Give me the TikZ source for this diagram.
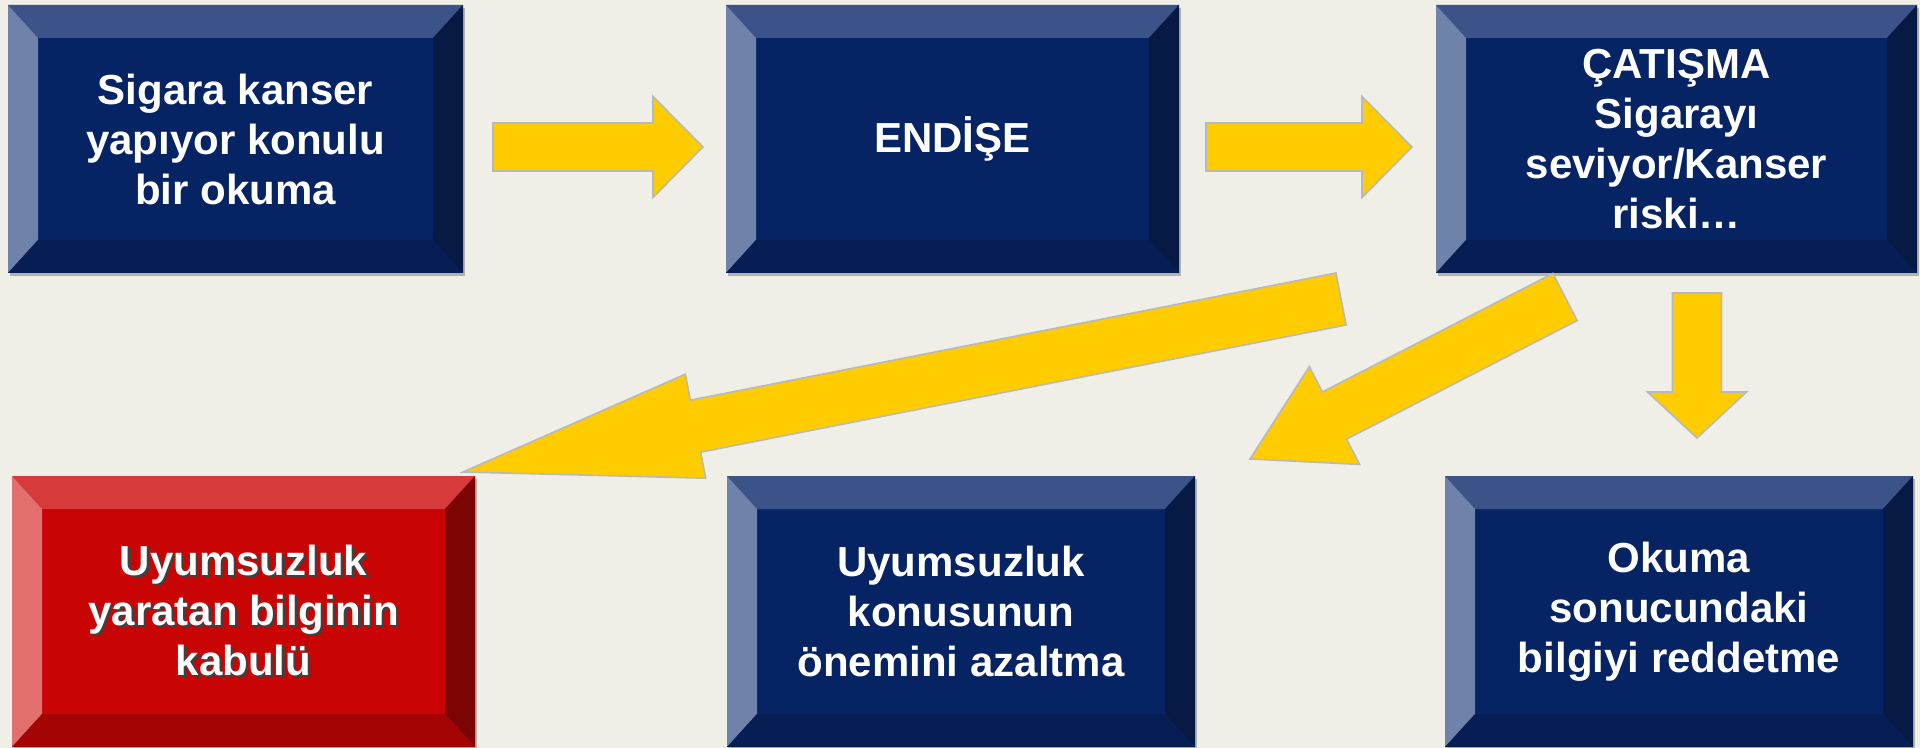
\documentclass[tikz,border=0pt]{standalone}
\usepackage{fontspec}
\setmainfont{Liberation Sans}
\usepackage{tikz}
\usetikzlibrary{positioning,calc,shadows}

\definecolor{bgcol}{RGB}{239,239,232}
\definecolor{navy}{RGB}{6,35,99}
\definecolor{navytop}{RGB}{59,83,137}
\definecolor{navyleft}{RGB}{110,130,170}
\definecolor{navyright}{RGB}{6,26,68}
\definecolor{navybot}{RGB}{6,30,84}
\definecolor{redface}{RGB}{200,4,4}
\definecolor{redtop}{RGB}{214,58,58}
\definecolor{redleft}{RGB}{227,110,110}
\definecolor{redright}{RGB}{125,4,4}
\definecolor{redbot}{RGB}{164,4,4}
\definecolor{arrowyellow}{RGB}{255,204,0}

% node, top, left, right, bottom
\newcommand\bevel[5]{%
  \fill[#2] (#1.north west) -- (#1.north east) -- ([shift={(-15pt,-16.5pt)}]#1.north east) -- ([shift={(15pt,-16.5pt)}]#1.north west) -- cycle;
  \fill[#3] (#1.north west) -- ([shift={(15pt,-16.5pt)}]#1.north west) -- ([shift={(15pt,16.5pt)}]#1.south west) -- (#1.south west) -- cycle;
  \fill[#4] (#1.north east) -- ([shift={(-15pt,-16.5pt)}]#1.north east) -- ([shift={(-15pt,16.5pt)}]#1.south east) -- (#1.south east) -- cycle;
  \fill[#5] (#1.south west) -- ([shift={(15pt,16.5pt)}]#1.south west) -- ([shift={(-15pt,16.5pt)}]#1.south east) -- (#1.south east) -- cycle;
}
% tail, tip, shaft half width, head half width, head length
\newcommand\yarrow[5]{%
  \coordinate (h) at ($(#2)!#5!(#1)$);
  \filldraw[blockarrow] ($(#1)!#3!90:(#2)$) -- ($(h)!#3!90:(#2)$) -- ($(h)!#4!90:(#2)$) -- (#2)
    -- ($(h)!#4!-90:(#2)$) -- ($(h)!#3!-90:(#2)$) -- ($(#1)!#3!-90:(#2)$) -- cycle;
}
\newcommand\shtext[1]{\rlap{\hspace{1.2pt}\raisebox{-1.2pt}{\color{black!75}#1}}#1}

\begin{document}
\begin{tikzpicture}[x=0.5pt,y=-0.5pt,on grid,
  box/.style={fill=navy,text=white,font=\bfseries\fontsize{21}{25}\selectfont,align=center,
    inner sep=0pt,outer sep=0pt,general shadow={fill=black,opacity=.25,shadow xshift=1pt,shadow yshift=-1.5pt}},
  toprow/.style={box,minimum height=134pt},
  botrow/.style={box,minimum height=135.5pt},
  blockarrow/.style={fill=arrowyellow,draw=gray!55,line width=0.8pt,line join=miter}]
  \useasboundingbox (0,0) rectangle (1920,748);
  \fill[bgcol] (0,0) rectangle (1920,748);

  \node[toprow,minimum width=227.5pt] (okuma) at (235.5,139) {Sigara kanser\\yapıyor konulu\\bir okuma};
  \node[toprow,minimum width=226.5pt] (endise) [right=358.5pt of okuma] {ENDİŞE};
  \node[toprow,minimum width=240.5pt] (catisma) [right=362pt of endise] {ÇATIŞMA\\Sigarayı\\seviyor/Kanser\\riski…};
  \node[botrow,fill=redface,minimum width=231.5pt] (kabul) at (243.5,611.5) {\shtext{Uyumsuzluk}\\\shtext{yaratan bilginin}\\\shtext{kabulü}};
  \node[botrow,minimum width=234pt] (azaltma) [right=358.75pt of kabul] {Uyumsuzluk\\konusunun\\önemini azaltma};
  \node[botrow,minimum width=234pt] (ret) [right=359pt of azaltma] {Okuma\\sonucundaki\\bilgiyi reddetme};

  \bevel{okuma}{navytop}{navyleft}{navyright}{navybot}
  \bevel{endise}{navytop}{navyleft}{navyright}{navybot}
  \bevel{catisma}{navytop}{navyleft}{navyright}{navybot}
  \bevel{kabul}{redtop}{redleft}{redright}{redbot}
  \bevel{azaltma}{navytop}{navyleft}{navyright}{navybot}
  \bevel{ret}{navytop}{navyleft}{navyright}{navybot}

  \coordinate (a1s) at (493,147);
  \coordinate (a1e) at (703,147);
  \coordinate (a2s) at (1206,147);
  \coordinate (a2e) at (1412,147);
  \coordinate (a3s) at (1697,293);
  \coordinate (a3e) at (1697,438);
  \coordinate (a4s) at (1565,297);
  \coordinate (a4e) at (1250,459);
  \coordinate (a5s) at (1341,299);
  \coordinate (a5e) at (463,472);

  \yarrow{a1s}{a1e}{12pt}{25.25pt}{25pt}
  \yarrow{a2s}{a2e}{12pt}{25.25pt}{25pt}
  \yarrow{a3s}{a3e}{12.25pt}{24.75pt}{23pt}
  \yarrow{a4s}{a4e}{13.25pt}{27.5pt}{47.5pt}
  \yarrow{a5s}{a5e}{13.25pt}{26.5pt}{118.5pt}
\end{tikzpicture}
\end{document}
